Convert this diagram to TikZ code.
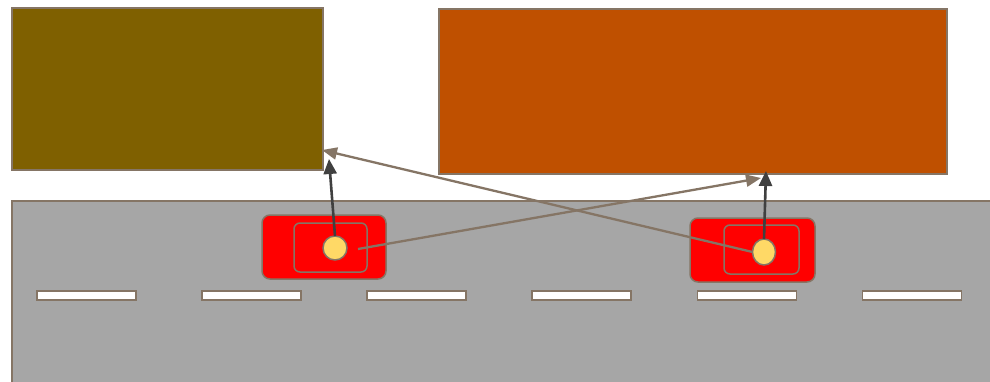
\documentclass[tikz,border=0pt]{standalone}
\usetikzlibrary{arrows.meta,shapes.geometric}
\definecolor{edge}{HTML}{857565}
\definecolor{olive}{HTML}{7F6000}
\definecolor{rust}{HTML}{BF5000}
\definecolor{road}{HTML}{A6A6A6}
\definecolor{lamp}{HTML}{FFD966}
\definecolor{dark}{HTML}{404040}
\tikzset{
  block/.style={draw=edge, line width=1.5pt, inner sep=0pt, outer sep=0pt},
  lane/.style={draw=edge, fill=white, line width=1.5pt, inner sep=0pt, outer sep=0pt, minimum width=99pt, minimum height=9pt},
  carbody/.style={draw=edge, fill=red, line width=1.5pt, rounded corners=8pt, inner sep=0pt, outer sep=0pt},
  cabin/.style={draw=edge, line width=1.5pt, rounded corners=6pt, inner sep=0pt, outer sep=0pt},
  sensor/.style={ellipse, draw=edge, fill=lamp, line width=1.5pt, minimum width=24pt, minimum height=24pt, inner sep=0pt, outer sep=0pt},
  up/.style={draw=dark, line width=2.6pt, -{Triangle[length=15pt,width=13pt]}},
  cross/.style={draw=edge, line width=2.3pt, -{Triangle[length=15pt,width=12pt]}}
}
\begin{document}
\begin{tikzpicture}[x=1pt,y=-1pt]
\useasboundingbox (0,0) rectangle (990,381);
\fill[white] (0,0) rectangle (990,381);

% buildings
\node[block, fill=olive, minimum width=311pt, minimum height=162pt] (left) at (167.5,89) {};
\node[block, fill=rust, minimum width=508pt, minimum height=165pt] (right) at (693,91.5) {};

% road surface, running off the right and bottom edges
\node[block, fill=road, minimum width=1000pt, minimum height=200pt, anchor=north west] (street) at (12,201) {};

% lane markings
\foreach \x [count=\i] in {86.5,251.5,416.5,581.5,747,912}
  \node[lane] (dash\i) at (\x,295.5) {};

% first car
\node[carbody, minimum width=124pt, minimum height=64pt] (carA) at (324,247) {};
\node[cabin, minimum width=73pt, minimum height=49pt] (cabA) at (330.5,247.5) {};
\node[sensor] (sA) at (335,248) {};

% second car
\node[carbody, minimum width=125pt, minimum height=64pt] (carB) at (752.5,250) {};
\node[cabin, minimum width=75pt, minimum height=49pt] (cabB) at (761.5,249.5) {};
\node[sensor, minimum width=23pt, minimum height=26pt] (sB) at (764,252) {};

% arrow end points
\coordinate (tipA) at (329,159);
\coordinate (tipB) at (766,171);
\coordinate (startA) at (358,249);
\coordinate (hitR) at (761,178);
\coordinate (hitL) at (322,150);

% sight lines
\draw[cross] (startA) -- (hitR);
\draw[cross] (sB.west) -- (hitL);
\draw[up] (sA.north) -- (tipA);
\draw[up] (sB.north) -- (tipB);
\end{tikzpicture}
\end{document}
